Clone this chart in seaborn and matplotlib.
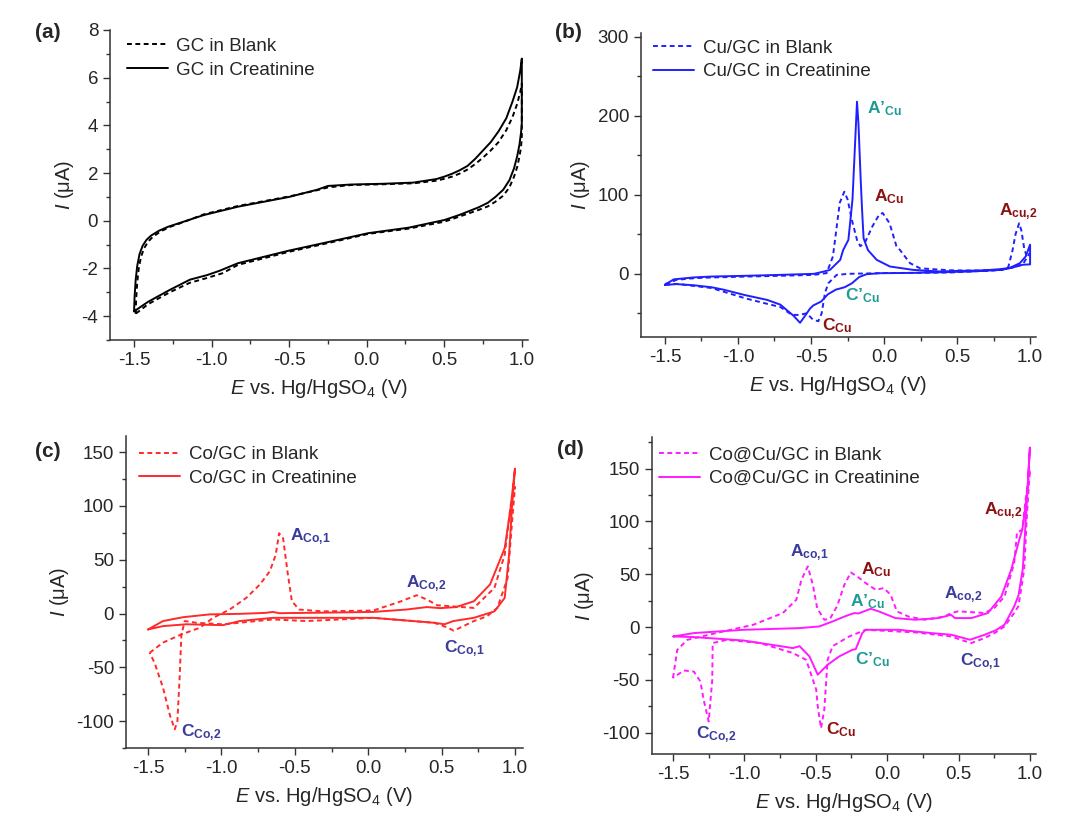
import matplotlib
matplotlib.use("Agg")
import matplotlib.pyplot as plt
import matplotlib.ticker as mticker
import seaborn as sns

# ---- data (E in V, I in uA), scans in order ----
# (a) GC
a_blank_E = [-1.49, -1.487, -1.48, -1.47, -1.455, -1.435, -1.41, -1.38, -1.33, -1.27, -1.2, -1.05, -0.83, -0.5, -0.32, -0.25, -0.1, 0.1, 0.3, 0.45, 0.5, 0.55, 0.6, 0.65, 0.7, 0.75, 0.8, 0.85, 0.9, 0.94, 0.97, 0.99, 1.0,
             1.0, 0.995, 0.985, 0.97, 0.95, 0.92, 0.88, 0.83, 0.78, 0.72, 0.6, 0.5, 0.27, 0.01, -0.26, -0.5, -0.83, -0.93, -1.03, -1.14, -1.27, -1.41, -1.49]
a_blank_I = [-3.9, -3.3, -2.6, -2.0, -1.5, -1.15, -0.88, -0.68, -0.45, -0.26, -0.1, 0.27, 0.62, 1.02, 1.28, 1.4, 1.5, 1.53, 1.57, 1.68, 1.76, 1.85, 1.98, 2.15, 2.38, 2.65, 2.95, 3.3, 3.8, 4.35, 4.9, 5.4, 5.75,
             3.5, 3.1, 2.7, 2.25, 1.85, 1.4, 1.05, 0.8, 0.6, 0.45, 0.18, -0.04, -0.33, -0.55, -0.95, -1.3, -1.85, -2.2, -2.4, -2.6, -3.0, -3.5, -3.9]
a_crea_E = [-1.5, -1.497, -1.49, -1.48, -1.465, -1.445, -1.42, -1.39, -1.34, -1.28, -1.2, -1.05, -0.83, -0.5, -0.32, -0.25, -0.1, 0.1, 0.3, 0.45, 0.5, 0.55, 0.6, 0.65, 0.7, 0.75, 0.8, 0.85, 0.9, 0.94, 0.97, 0.99, 1.0,
            1.0, 0.995, 0.985, 0.97, 0.95, 0.92, 0.88, 0.83, 0.78, 0.72, 0.6, 0.5, 0.27, 0.01, -0.26, -0.5, -0.83, -0.95, -1.03, -1.14, -1.27, -1.41, -1.5]
a_crea_I = [-3.8, -3.2, -2.5, -1.9, -1.4, -1.05, -0.8, -0.62, -0.42, -0.25, -0.08, 0.24, 0.59, 1.0, 1.3, 1.46, 1.52, 1.55, 1.6, 1.75, 1.85, 1.97, 2.12, 2.3, 2.6, 2.95, 3.3, 3.75, 4.3, 5.0, 5.6, 6.3, 6.8,
            4.1, 3.7, 3.2, 2.7, 2.2, 1.7, 1.3, 1.0, 0.75, 0.56, 0.25, 0.03, -0.29, -0.52, -0.91, -1.25, -1.78, -2.1, -2.28, -2.47, -2.9, -3.4, -3.8]

# (b) Cu/GC
b_blank_E = [-1.5, -1.42, -1.3, -1.18, -0.95, -0.71, -0.48, -0.393, -0.35, -0.303, -0.272, -0.249, -0.22, -0.185, -0.162, -0.127, -0.08, -0.033, -0.009, 0.038, 0.085, 0.11, 0.178, 0.247, 0.45, 0.69, 0.8, 0.85, 0.88, 0.9, 0.925, 0.94, 0.96, 0.977, 1.0,
             0.97, 0.95, 0.88, 0.8, 0.6, 0.46, 0.2, 0.0, -0.244, -0.324, -0.381, -0.404, -0.427, -0.45, -0.486, -0.53, -0.58, -0.63, -0.71, -0.8, -0.95, -1.18, -1.42, -1.5]
b_blank_I = [-13, -7.6, -5.5, -4.6, -3.5, -2.5, -1.3, 0.9, 22, 90, 104, 94, 68, 43, 35, 41, 60, 75, 77, 64, 35, 30, 13.5, 7, 4.5, 4, 5, 8, 30, 50, 64, 55, 32, 22, 26,
             18, 12, 8, 5, 3, 1.7, 1.2, 1, 0, -1.3, -11.8, -24, -50, -60, -58, -50, -52, -52, -42, -38, -31, -18, -12.7, -14]
b_crea_E = [-1.5, -1.44, -1.3, -1.18, -0.95, -0.71, -0.48, -0.41, -0.37, -0.3, -0.28, -0.244, -0.216, -0.197, -0.185, -0.175, -0.16, -0.15, -0.14, -0.11, -0.05, 0.04, 0.2, 0.38, 0.69, 0.8, 0.86, 0.93, 0.97, 1.0,
            1.0, 0.95, 0.88, 0.8, 0.6, 0.4, 0.2, -0.03, -0.12, -0.17, -0.22, -0.27, -0.33, -0.385, -0.43, -0.484, -0.507, -0.54, -0.575, -0.62, -0.71, -0.8, -0.95, -1.1, -1.18, -1.3, -1.42, -1.5]
b_crea_I = [-14, -7, -4.5, -3.4, -2.5, -1.3, 0, 3, 5, 17.7, 30, 43, 94, 170, 218, 190, 120, 80, 45, 30, 17.7, 9.3, 5, 3, 4.5, 6, 7.5, 13.5, 22, 37,
            12, 11.5, 8, 5, 3, 2, 1.2, 0.8, -0.5, -4, -12, -17, -20, -26, -35, -40, -44, -53, -62, -53, -39, -33, -27, -20, -17, -14.5, -13, -14]

# (c) Co/GC
c_blank_E = [-1.489, -1.398, -1.273, -1.148, -1.057, -0.943, -0.83, -0.738, -0.67, -0.63, -0.607, -0.58, -0.55, -0.52, -0.47, -0.31, 0.034, 0.217, 0.33, 0.4, 0.47, 0.72, 0.86, 0.93, 0.97, 1.0,
             0.98, 0.95, 0.88, 0.81, 0.72, 0.583, 0.54, 0.45, 0.034, -0.42, -0.65, -0.88, -0.99, -1.17, -1.25, -1.273, -1.285, -1.3, -1.318, -1.35, -1.398, -1.455, -1.489]
c_blank_I = [-36.5, -27, -19.4, -13.3, -4, 3.8, 14.6, 27, 39.4, 54.6, 74.6, 70, 39, 11.4, 3.7, 2, 2.8, 11, 17, 13, 7.7, 5.2, 23.8, 54.6, 100, 117.7,
             85, 33, 5.2, -2.5, -7, -16, -13, -8.6, -4, -7, -5.5, -8.6, -10, -8.6, -7, -20, -60, -100, -107.6, -95, -69, -46, -36.5]
c_crea_E = [-1.5, -1.398, -1.26, -1.08, -0.875, -0.7, -0.65, -0.607, -0.195, 0.034, 0.26, 0.4, 0.49, 0.6, 0.72, 0.83, 0.93, 0.97, 1.0,
            0.98, 0.96, 0.93, 0.86, 0.79, 0.72, 0.58, 0.52, 0.45, 0.26, 0.034, -0.31, -0.648, -0.875, -0.99, -1.24, -1.398, -1.5]
c_crea_I = [-14.8, -7, -3.4, -0.8, -0.3, 0.6, 1.5, 0.3, 1, 1.5, 3.7, 6, 5, 6, 11.4, 27, 60.7, 97.7, 134.6,
            100, 54.6, 14.5, 2, -1, -4, -7, -10, -8.6, -6.5, -4, -4, -4, -7, -10.8, -10, -11.7, -14.8]

# (d) Co@Cu/GC
d_blank_E = [-1.5, -1.47, -1.4, -1.146, -0.937, -0.73, -0.636, -0.6, -0.556, -0.52, -0.49, -0.44, -0.4, -0.35, -0.3, -0.254, -0.2, -0.15, -0.08, -0.023, 0.024, 0.069, 0.15, 0.267, 0.4, 0.45, 0.498, 0.683, 0.75, 0.822, 0.89, 0.91, 0.93, 0.947, 0.97, 1.0,
             0.98, 0.96, 0.92, 0.89, 0.822, 0.76, 0.683, 0.59, 0.54, 0.45, 0.2, -0.15, -0.266, -0.382, -0.417, -0.44, -0.463, -0.486, -0.497, -0.567, -0.66, -0.892, -1.122, -1.222, -1.225, -1.25, -1.285, -1.308, -1.354, -1.424, -1.5]
d_blank_I = [-48, -21.4, -12, -4, 2.3, 13.4, 26, 45, 57.5, 40, 18, 7, 8, 20, 40, 51.8, 47, 41.7, 35.4, 37, 30.7, 14.9, 10, 7, 10, 13.4, 15, 13.4, 18, 29, 60.7, 90, 91, 92.5, 121, 149,
             108, 54.6, 20, 13.4, 0.7, -5, -10.3, -15, -13, -8.8, -5, -2.5, -8.8, -18, -31, -78, -95.6, -75, -59, -31, -24.5, -15, -12, -15, -50, -89.3, -68.8, -51.4, -42, -41, -48]
d_crea_E = [-1.497, -1.354, -1.007, -0.613, -0.475, -0.382, -0.3, -0.266, -0.231, -0.2, -0.115, -0.058, 0.058, 0.197, 0.36, 0.447, 0.475, 0.59, 0.706, 0.8, 0.868, 0.92, 0.947, 0.97, 0.985, 1.0,
            0.98, 0.95, 0.92, 0.89, 0.822, 0.76, 0.683, 0.58, 0.45, 0.31, 0.081, -0.15, -0.174, -0.22, -0.243, -0.336, -0.417, -0.486, -0.544, -0.613, -0.66, -1.007, -1.354, -1.497]
d_crea_I = [-8.8, -5.6, -2.5, -0.9, 0.7, 5.4, 10, 11.7, 13.3, 13, 17.4, 14.9, 8.6, 7, 8.6, 11.7, 8.6, 8.6, 13.4, 29, 54, 80, 92.5, 115, 135, 170,
            121, 55, 30, 19.6, 2.3, -3, -7.2, -11.9, -7.2, -5.6, -2.5, -2.5, -5.6, -20.8, -21.4, -27.7, -35.6, -45, -27.7, -18, -19.8, -12.6, -9.4, -8.8]

x_ticks = [-1.5, -1.0, -0.5, 0.0, 0.5, 1.0]

TEAL = "#1f9a94"
DRED = "#8b1212"
NAVY = "#3b3b9b"

sns.set_style("ticks")
plt.rcParams["font.family"] = ["Liberation Sans", "DejaVu Sans"]
plt.rcParams["mathtext.fontset"] = "custom"
plt.rcParams["mathtext.rm"] = "Liberation Sans"
plt.rcParams["mathtext.it"] = "Liberation Sans:italic"
plt.rcParams["mathtext.bf"] = "Liberation Sans:bold"
plt.rcParams["axes.unicode_minus"] = False

fig = plt.figure(figsize=(10.8, 8.24), dpi=100)

panels = [
    # rect, xlim, ylim, major y, minor y, blank, crea, color, legend name, legend anchor
    ([0.1019, 0.5874, 0.387, 0.3762], (-1.655, 1.04), (-5, 8), 2, 1,
     (a_blank_E, a_blank_I), (a_crea_E, a_crea_I), "black", "GC", (0.04, 0.975)),
    ([0.5935, 0.591, 0.3657, 0.369], (-1.664, 1.04), (-80, 305), 100, 50,
     (b_blank_E, b_blank_I), (b_crea_E, b_crea_I), "#2020ff", "Cu/GC", (0.03, 0.978)),
    ([0.1167, 0.0922, 0.3676, 0.3787], (-1.65, 1.055), (-125, 165), 50, 25,
     (c_blank_E, c_blank_I), (c_crea_E, c_crea_I), "#ff2a2a", "Co/GC", (0.033, 0.968)),
    ([0.6033, 0.085, 0.3556, 0.3847], (-1.65, 1.04), (-120, 180), 50, 25,
     (d_blank_E, d_blank_I), (d_crea_E, d_crea_I), "#ff1aff", "Co@Cu/GC", (0.02, 0.97)),
]

axes = []
for rect, xl, yl, ymaj, ymin, blank, crea, col, name, anchor in panels:
    ax = fig.add_axes(rect)
    sns.lineplot(x=blank[0], y=blank[1], sort=False, estimator=None, ax=ax,
                 color=col, lw=1.4, linestyle=(0, (2.5, 1.8)), label=f"{name} in Blank")
    sns.lineplot(x=crea[0], y=crea[1], sort=False, estimator=None, ax=ax,
                 color=col, lw=1.4, label=f"{name} in Creatinine")
    ax.set_xlim(*xl)
    ax.set_ylim(*yl)
    ax.set_xticks(x_ticks)
    ax.xaxis.set_major_formatter(mticker.FormatStrFormatter("%.1f"))
    ax.xaxis.set_minor_locator(mticker.MultipleLocator(0.25))
    ax.yaxis.set_major_locator(mticker.MultipleLocator(ymaj))
    ax.yaxis.set_minor_locator(mticker.MultipleLocator(ymin))
    ax.tick_params(which="major", direction="out", length=5, width=1, labelsize=13.5, color="#333333")
    ax.tick_params(which="minor", direction="out", length=3, width=1, color="#333333")
    for s in ["top", "right"]:
        ax.spines[s].set_visible(False)
    for s in ["left", "bottom"]:
        ax.spines[s].set_linewidth(1.1)
        ax.spines[s].set_color("#333333")
    ax.set_xlabel(r"$E$ vs. Hg/HgSO$_4$ (V)", fontsize=14.5, labelpad=6)
    ax.set_ylabel(r"$I$ (μA)", fontsize=14.5, labelpad=4)
    ax.legend(loc="upper left", bbox_to_anchor=anchor, frameon=False, fontsize=13.5,
              handlelength=2.2, handletextpad=0.45, labelspacing=0.35, borderpad=0, borderaxespad=0)
    axes.append(ax)

axes[0].yaxis.set_major_formatter(mticker.FormatStrFormatter("%d"))

# peak labels (comma wrapped in braces so mathtext adds no space after it)
def lab(ax, x, y, main, sub, color):
    sub = sub.replace(",", "{,}")
    ax.text(x, y, r"$\mathbf{%s}_{\mathbf{%s}}$" % (main, sub), color=color,
            fontsize=12.5, ha="left", va="center")

axb, axc, axd = axes[1], axes[2], axes[3]
lab(axb, -0.12, 209, "A’", "Cu", TEAL)
lab(axb, -0.068, 98, "A", "Cu", DRED)
lab(axb, 0.789, 79, "A", "cu,2", DRED)
lab(axb, -0.268, -27, "C’", "Cu", TEAL)
lab(axb, -0.427, -65, "C", "Cu", DRED)

lab(axc, -0.532, 71, "A", "Co,1", NAVY)
lab(axc, 0.258, 28, "A", "Co,2", NAVY)
lab(axc, 0.515, -33, "C", "Co,1", NAVY)
lab(axc, -1.276, -111, "C", "Co,2", NAVY)

lab(axd, -0.683, 70, "A", "co,1", NAVY)
lab(axd, -0.182, 54, "A", "Cu", DRED)
lab(axd, -0.258, 24, "A’", "Cu", TEAL)
lab(axd, 0.398, 31, "A", "co,2", NAVY)
lab(axd, 0.678, 110, "A", "cu,2", DRED)
lab(axd, -0.227, -31, "C’", "Cu", TEAL)
lab(axd, 0.513, -33, "C", "Co,1", NAVY)
lab(axd, -0.426, -97, "C", "Cu", DRED)
lab(axd, -1.338, -102, "C", "Co,2", NAVY)

for txt, x, y in [("(a)", 0.032, 0.960), ("(b)", 0.514, 0.960), ("(c)", 0.032, 0.452), ("(d)", 0.516, 0.454)]:
    fig.text(x, y, txt, fontsize=15, fontweight="bold", ha="left", va="center")

fig.savefig("out.png", dpi=100)
